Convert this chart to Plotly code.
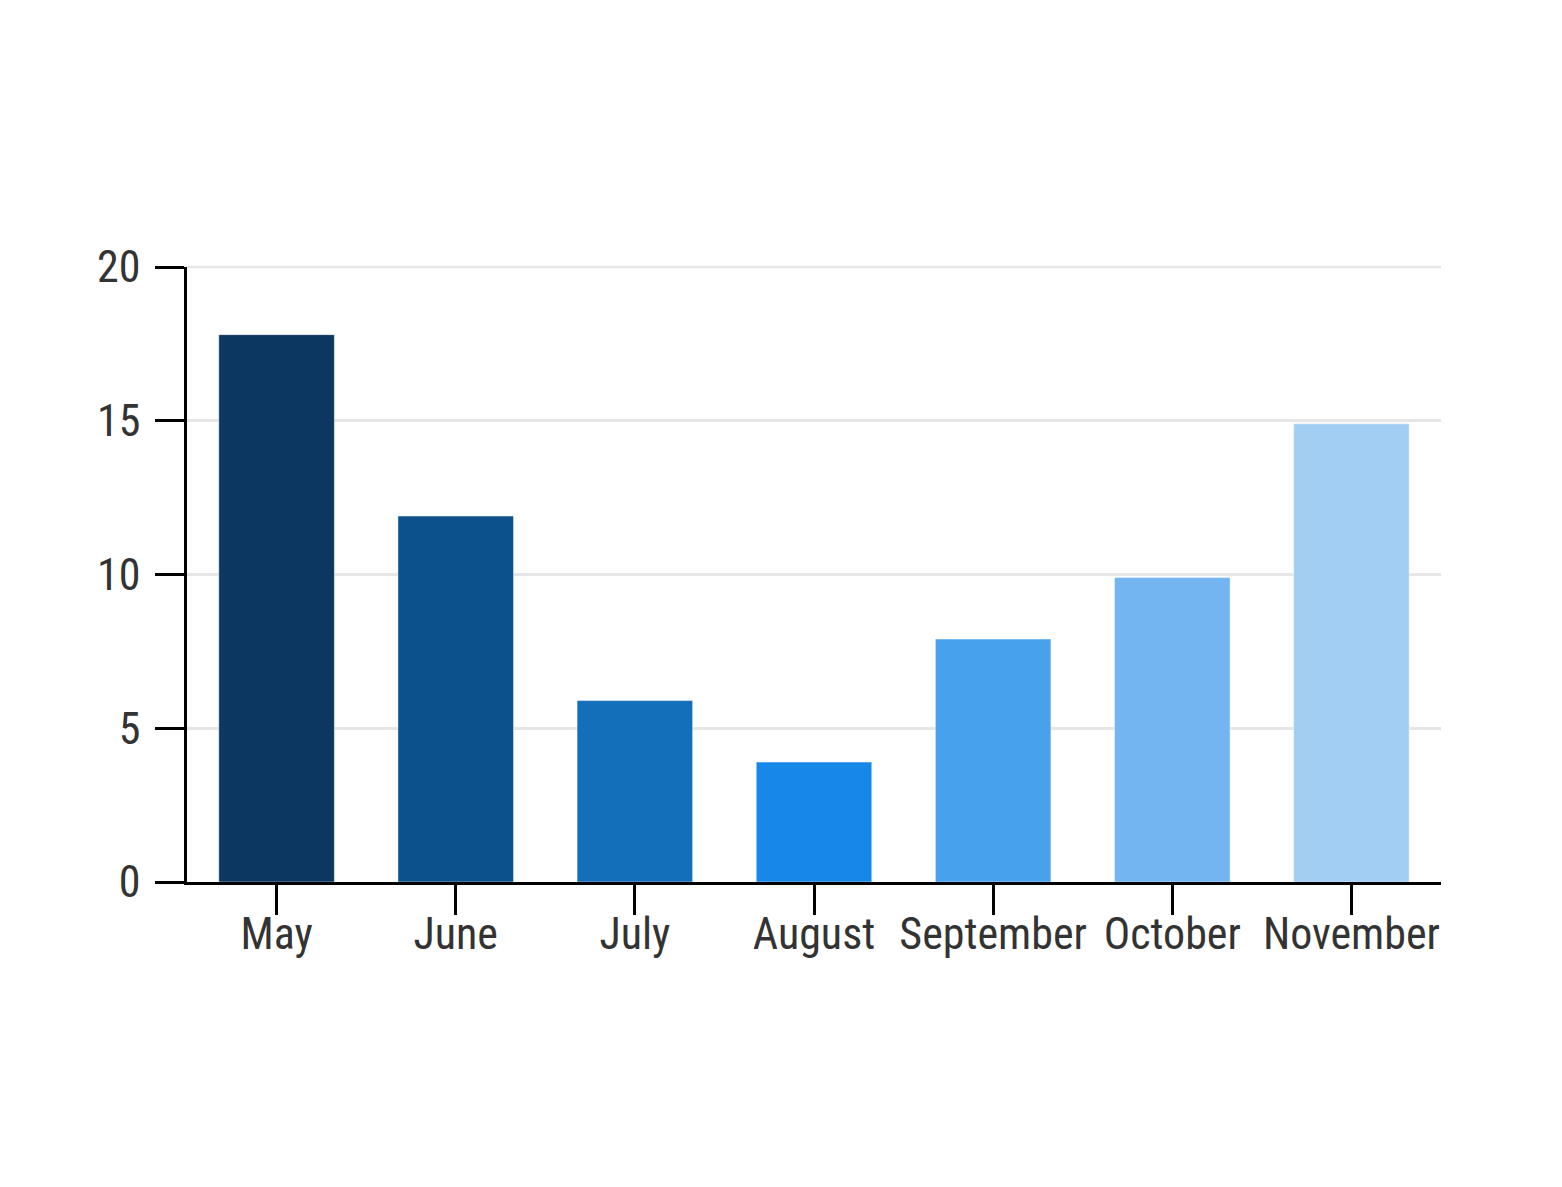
import plotly.graph_objects as go

months = ["May", "June", "July", "August", "September", "October", "November"]
values = [17.8, 11.9, 5.9, 3.9, 7.9, 9.9, 14.9]
colors = ["#0b3760", "#0d518a", "#146fbb", "#1888e8", "#47a1ed", "#72b5f1", "#a3cef4"]
y_ticks = [0, 5, 10, 15, 20]

FONT = "Roboto Condensed, Liberation Sans Narrow, DejaVu Sans Condensed, sans-serif"

fig = go.Figure(
    go.Bar(
        x=months,
        y=values,
        marker=dict(color=colors, line=dict(color="rgba(255,255,255,0.45)", width=1)),
        width=0.645,
        hoverinfo="x+y",
    )
)

fig.update_layout(
    width=1562,
    height=1187,
    margin=dict(l=179, r=129, t=259, b=313),
    paper_bgcolor="white",
    plot_bgcolor="white",
    showlegend=False,
    font=dict(family=FONT, size=44, color="#333333"),
)

# gridline at the top of the range (plotly omits the one on the boundary)
fig.add_shape(
    type="line", xref="paper", yref="paper", x0=0, x1=1, y0=1, y1=1,
    line=dict(color="#e6e6e6", width=2.5), layer="below",
)

fig.update_xaxes(
    showline=True,
    linecolor="black",
    linewidth=2.5,
    ticks="outside",
    ticklen=30,
    tickwidth=2.5,
    tickcolor="black",
    showgrid=False,
    ticklabelstandoff=-19,
    tickfont=dict(family=FONT, size=44, color="#333333"),
)

fig.update_yaxes(
    range=[0, 20],
    tickvals=y_ticks,
    showline=True,
    linecolor="black",
    linewidth=2.5,
    ticks="outside",
    ticklen=29,
    tickwidth=2.5,
    tickcolor="black",
    showgrid=True,
    gridcolor="#e6e6e6",
    gridwidth=2.5,
    zeroline=False,
    ticklabelstandoff=6,
    tickfont=dict(family=FONT, size=44, color="#333333"),
)

fig.write_html("out.html")
